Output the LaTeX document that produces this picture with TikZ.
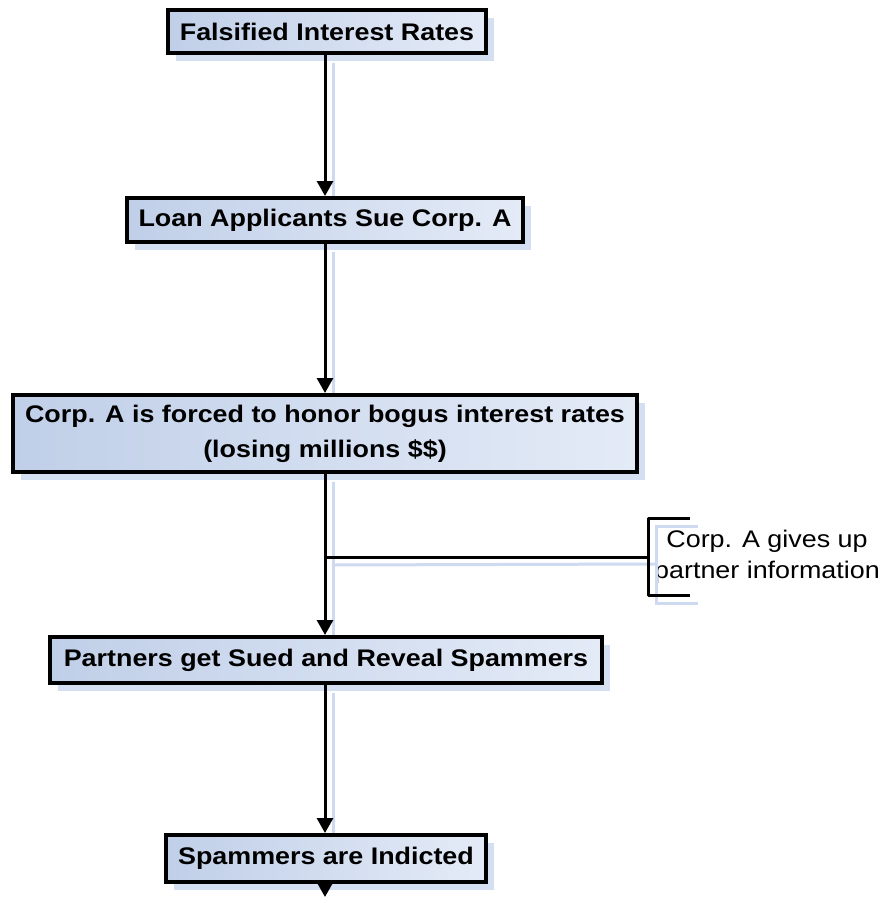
\documentclass[tikz,border=0pt]{standalone}
\usepackage{fontspec}
\setmainfont{Liberation Sans}[FakeStretch=1.12]
\usepackage{tikz}
\usetikzlibrary{arrows.meta, positioning, shadows, calc}

\definecolor{boxlight}{RGB}{228,235,247}
\definecolor{boxdark}{RGB}{192,207,232}
\definecolor{shadowblue}{RGB}{205,218,240}

\tikzset{
  stepbox/.style={draw=black, line width=4pt, left color=boxdark, right color=boxlight,
    font=\fontsize{24}{35}\selectfont\bfseries, align=center, inner sep=0pt,
    drop shadow={shadow xshift=8pt, shadow yshift=-8pt, fill=shadowblue, opacity=0.85}},
  flow/.style={line width=3pt, -{Triangle[width=16pt,length=15pt]}},
  branch/.style={line width=3pt},
  shadowline/.style={line width=3pt, shadowblue}
}

\begin{document}
\begin{tikzpicture}[x=1pt, y=-1pt]
  \useasboundingbox (0,0) rectangle (886,903);
  \coordinate (spine) at (325,0);

  % the chain of boxes
  \node[stepbox, minimum width=318pt, minimum height=43pt] (rates) at (327,31.5) {Falsified Interest Rates};
  \node[stepbox, minimum width=396pt, minimum height=44pt] (sue) at (325,220) {Loan Applicants Sue Corp. A};
  \node[stepbox, minimum width=624pt, minimum height=77pt] (honor) at (325,433.5)
    {Corp. A is forced to honor bogus interest rates\\(losing millions \$\$)};
  \node[stepbox, minimum width=552pt, minimum height=46pt] (partners) at (326,660) {Partners get Sued and Reveal Spammers};
  \node[stepbox, minimum width=320pt, minimum height=47pt] (indicted) at (326,858.5) {Spammers are Indicted};

  % annotation on the right
  \node[font=\fontsize{24}{31}\selectfont, align=center, inner sep=0pt, anchor=west] (note) at (654,557)
    {Corp. A gives up\\partner information};
  \coordinate (tail) at (325,897);

  % faint shadows of the connectors
  \draw[shadowline] ($(rates.south -| spine)+(8,8)$) -- ($(sue.north -| spine)+(8,0)$);
  \draw[shadowline] ($(sue.south -| spine)+(8,8)$) -- ($(honor.north -| spine)+(8,0)$);
  \draw[shadowline] ($(honor.south -| spine)+(8,8)$) -- ($(partners.north -| spine)+(8,0)$);
  \draw[shadowline] ($(partners.south -| spine)+(8,8)$) -- ($(indicted.north -| spine)+(8,0)$);
  \draw[shadowline] ($(spine |- note.west)+(8,8)$) -- (656,564);
  \draw[shadowline] (698,526) -- (656,526) -- (656,603) -- (698,603);

  % connectors
  \draw[flow] (rates.south -| spine) -- (sue.north -| spine);
  \draw[flow] (sue.south -| spine) -- (honor.north -| spine);
  \draw[flow] (honor.south -| spine) -- (partners.north -| spine);
  \draw[flow] (partners.south -| spine) -- (indicted.north -| spine);
  \draw[flow] (indicted.south -| spine) -- (tail);

  % bracket
  \draw[branch] (spine |- note.west) -- (648,557);
  \draw[branch, line join=round] (690,518) -- (648,518) -- (648,595) -- (690,595);
\end{tikzpicture}
\end{document}
